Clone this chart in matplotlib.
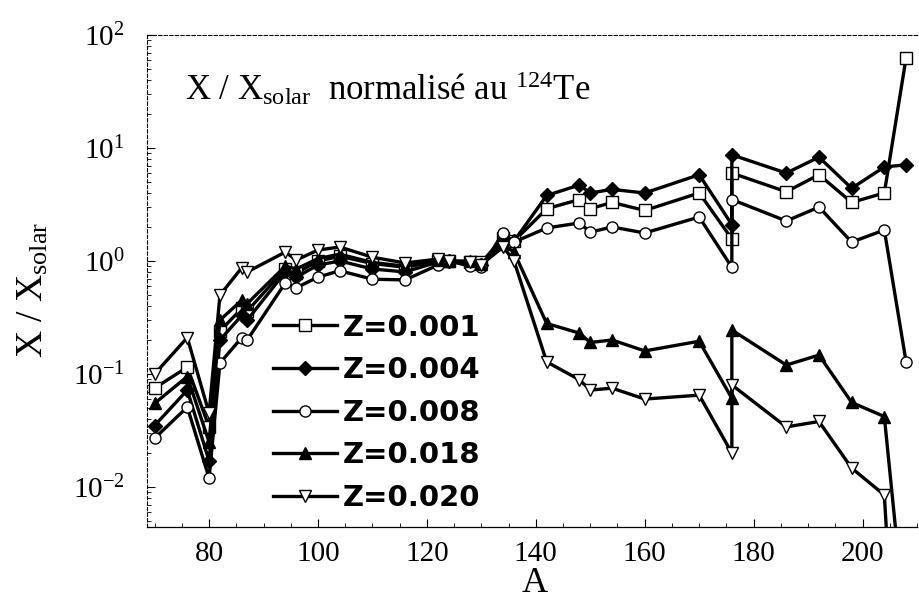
import numpy as np
import matplotlib
matplotlib.use("Agg")
import matplotlib.pyplot as plt
from matplotlib.ticker import MultipleLocator, LogLocator, NullFormatter

plt.rcParams['font.family'] = ['Liberation Serif', 'DejaVu Serif']
plt.rcParams['mathtext.fontset'] = 'custom'
plt.rcParams['mathtext.rm'] = 'Liberation Serif'
plt.rcParams['mathtext.it'] = 'Liberation Serif:italic'

# ============= data (s-only nuclei, normalised to 124Te) =============
A = [70, 76, 80, 82, 86, 87, 94, 96, 100, 104, 110, 116, 122, 124, 128, 130,
     134, 136, 142, 148, 150, 154, 160, 170, 176, 176, 186, 192, 198, 204, 208]

z001 = [0.075, 0.115, 0.034, 0.24, 0.38, 0.36, 0.85, 0.78, 1.0, 1.1, 0.95, 0.88,
        1.0, 1.0, 0.98, 0.97, 1.6, 1.5, 2.9, 3.5, 2.9, 3.3, 2.8, 4.0, 1.57, 6.0,
        4.1, 5.8, 3.3, 4.0, 63.0]
z004 = [0.035, 0.072, 0.017, 0.2, 0.33, 0.3, 0.8, 0.72, 0.92, 1.0, 0.85, 0.8,
        0.98, 1.0, 0.95, 0.93, 1.5, 1.5, 3.8, 4.7, 4.0, 4.3, 4.0, 5.8, 2.1, 8.7,
        6.0, 8.3, 4.4, 6.8, 7.1]
z008 = [0.027, 0.051, 0.012, 0.125, 0.21, 0.2, 0.64, 0.58, 0.72, 0.82, 0.69, 0.68,
        0.92, 1.0, 0.9, 0.88, 1.77, 1.47, 1.96, 2.17, 1.8, 2.0, 1.77, 2.45, 0.88, 3.5,
        2.26, 3.0, 1.47, 1.88, 0.128]
z018 = [0.055, 0.095, 0.025, 0.3, 0.45, 0.42, 0.9, 0.85, 1.05, 1.15, 0.97, 0.9,
        1.02, 1.0, 1.0, 0.95, 1.4, 1.2, 0.28, 0.23, 0.19, 0.2, 0.16, 0.195, 0.061, 0.245,
        0.12, 0.147, 0.056, 0.042, 0.0005]
z020 = [0.10, 0.21, 0.045, 0.5, 0.87, 0.80, 1.2, 1.02, 1.25, 1.33, 1.08, 0.96,
        1.04, 1.0, 0.97, 0.93, 1.33, 1.0, 0.128, 0.089, 0.072, 0.075, 0.060, 0.065, 0.020, 0.080,
        0.034, 0.038, 0.0147, 0.0085, 5e-6]

series = [("Z=0.001", z001, 's', 'white'),
          ("Z=0.004", z004, 'D', 'black'),
          ("Z=0.008", z008, 'o', 'white'),
          ("Z=0.018", z018, '^', 'black'),
          ("Z=0.020", z020, 'v', 'white')]

# ============= plotting =============
fig = plt.figure(figsize=(9.19, 6.0), dpi=100)
ax = fig.add_axes([147/919, 1-527/600, (917-147)/919, (527-35)/600])

for label, vals, mk, fc in series:
    ms = 7 if mk == 'D' else 8
    ax.plot(A, vals, color='black', lw=2.4, marker=mk, ms=ms,
            mfc=fc, mec='black', mew=1.0, label=label)

ax.set_yscale('log')
ax.set_xlim(68.6, 210)
ax.set_ylim(10**-2.354, 100)

ax.xaxis.set_major_locator(MultipleLocator(20))
ax.xaxis.set_minor_locator(MultipleLocator(5))
ax.yaxis.set_major_locator(LogLocator(base=10, numticks=10))
ax.yaxis.set_minor_formatter(NullFormatter())
ax.tick_params(which='major', direction='in', length=6, width=0.8, labelsize=21, top=False, right=False)
ax.tick_params(which='minor', direction='in', length=3, width=0.6, top=False, right=False)
ax.tick_params(axis='x', pad=10)
ax.tick_params(axis='y', pad=16)

for side in ['left', 'top']:
    ax.spines[side].set_linestyle((0, (3, 2)))
    ax.spines[side].set_linewidth(0.8)
ax.spines['right'].set_visible(False)
ax.spines['bottom'].set_linewidth(0.9)

leg = ax.legend(loc='upper left', bbox_to_anchor=(258/919, 1-299/600),
                bbox_transform=fig.transFigure, frameon=False,
                prop={'family': 'DejaVu Sans', 'weight': 'bold', 'size': 21},
                handlelength=2.2, handletextpad=0.2, labelspacing=0.5, borderpad=0)

fig.text(185/919, 1-100/600, r'X / X$_{\mathrm{solar}}$  normalisé au $^{124}$Te',
         fontsize=25, va='baseline', ha='left')
fig.text(33/919, 1-290/600, r'X / X$_{\mathrm{solar}}$', fontsize=27,
         rotation=90, ha='center', va='center')
fig.text(535/919, 1-583/600, 'A', fontsize=26, ha='center', va='center')

fig.savefig('out.png', dpi=100)
